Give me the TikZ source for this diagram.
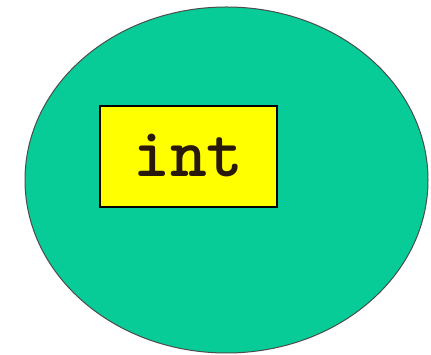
\documentclass[tikz,border=0pt]{standalone}
\usepackage{fontspec}
\definecolor{teal1}{RGB}{8,204,152}
\definecolor{yel}{RGB}{255,255,0}
\definecolor{ink}{RGB}{40,25,10}
\begin{document}
\begin{tikzpicture}[x=1pt,y=1pt,
  outer/.style={draw=black!70,line width=1pt,fill=teal1},
  typebox/.style={draw=black,line width=1.6pt,fill=yel,minimum width=177pt,minimum height=101pt,inner sep=0pt,text=ink,font=\ttfamily\bfseries\fontsize{70}{70}\selectfont}]
\useasboundingbox (0,0) rectangle (431,355);
\fill[white] (0,0) rectangle (431,355);
\draw[outer] (226.5,175) ellipse [x radius=201.5, y radius=173];
\node[typebox] (t) at (188.5,198.5) {\raisebox{3pt}{int}};
\end{tikzpicture}
\end{document}
